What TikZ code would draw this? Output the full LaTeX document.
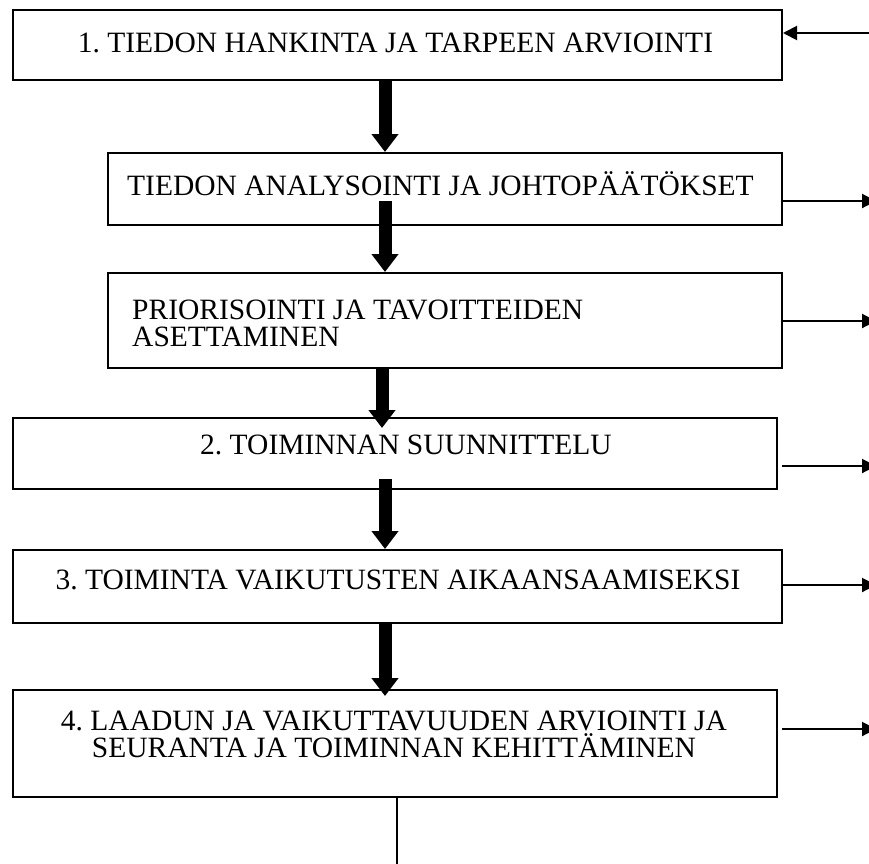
\documentclass[tikz,border=0pt]{standalone}
\usepackage{fontspec}
\setmainfont{Liberation Serif}
\usetikzlibrary{
arrows.meta,
positioning,
calc
}
\frenchspacing
\tikzset{
stagebox/.style={draw=black, line width=2pt, fill=white, inner sep=0pt},
stagetext/.style={font=\fontsize{29.5}{27}\selectfont, align=center, inner sep=0pt},
flowarrow/.style={line width=13pt, -{Triangle[length=18pt, width=26pt]}},
sidearrow/.style={line width=2pt, -{Triangle[length=14pt, width=14pt]}},
endline/.style={line width=2pt}
}

\begin{document}
\begin{tikzpicture}[x=1pt, y=-1pt]
\useasboundingbox (0,0) rectangle (869,863);

\node[stagebox, minimum width=769pt, minimum height=70pt] (hank) at (397.5,45) {};
\node[stagebox, minimum width=674pt, minimum height=72pt] (anal) at (445,189) {};
\node[stagebox, minimum width=674pt, minimum height=95pt] (prio) at (445,320.5) {};
\node[stagebox, minimum width=764pt, minimum height=71pt] (suun) at (395,453.5) {};
\node[stagebox, minimum width=769pt, minimum height=73pt] (toim) at (397.5,586.5) {};
\node[stagebox, minimum width=764pt, minimum height=107pt] (arvi) at (395,743.5) {};

\node[stagetext, anchor=base] (hanktxt) at (395.5,52) {1. TIEDON HANKINTA JA TARPEEN ARVIOINTI};
\node[stagetext, anchor=base] (analtxt) at (440.5,195) {TIEDON ANALYSOINTI JA JOHTOPÄÄTÖKSET};
\node[stagetext, anchor=north west, align=left] (priotxt) at (132,300) {PRIORISOINTI JA TAVOITTEIDEN\\ASETTAMINEN};
\node[stagetext, anchor=base] (suuntxt) at (406,454) {2. TOIMINNAN SUUNNITTELU};
\node[stagetext, anchor=base] (toimtxt) at (398,589) {3. TOIMINTA VAIKUTUSTEN AIKAANSAAMISEKSI};
\node[stagetext, anchor=north] (arvitxt) at (394,711) {4. LAADUN JA VAIKUTTAVUUDEN ARVIOINTI JA\\SEURANTA JA TOIMINNAN KEHITTÄMINEN};

\coordinate (spine) at (385,0);
\coordinate (spinel) at (382,0);
\coordinate (feedin) at (869,33);
\coordinate (out2) at (876,201);
\coordinate (out3) at (876,321);
\coordinate (out4) at (876,466);
\coordinate (out5) at (876,585);
\coordinate (out6) at (876,729);
\coordinate (tail) at (397,870);

\draw[flowarrow] (hank.south -| spine) -- (anal.north -| spine);
\draw[flowarrow] ([yshift=25pt]anal.south -| spine) -- (prio.north -| spine);
\draw[flowarrow] (prio.south -| spinel) -- ([yshift=-11pt]suun.north -| spinel);
\draw[flowarrow] ([yshift=11pt]suun.south -| spine) -- (toim.north -| spine);
\draw[flowarrow] (toim.south -| spine) -- ([yshift=-7pt]arvi.north -| spine);

\draw[sidearrow] (feedin) -- (feedin -| hank.east);
\draw[sidearrow] (out2 -| anal.east) -- (out2);
\draw[sidearrow] (out3 -| prio.east) -- (out3);
\draw[sidearrow] ([xshift=4pt]out4 -| suun.east) -- (out4);
\draw[sidearrow] (out5 -| toim.east) -- (out5);
\draw[sidearrow] ([xshift=4pt]out6 -| arvi.east) -- (out6);
\draw[endline] (arvi.south -| tail) -- (tail);
\end{tikzpicture}
\end{document}
